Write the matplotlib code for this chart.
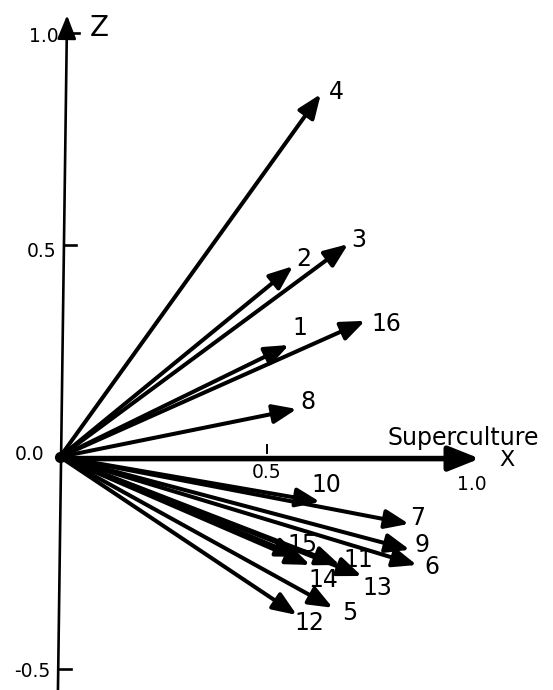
import matplotlib
matplotlib.use("Agg")
import matplotlib.pyplot as plt

# loadings of the 16 items on the Superculture axis (x) and the Z axis
labels = ["1", "2", "3", "4", "5", "6", "7", "8",
          "9", "10", "11", "12", "13", "14", "15", "16"]
x_load = [0.553, 0.563, 0.696, 0.630, 0.659, 0.862, 0.843, 0.572,
          0.845, 0.628, 0.676, 0.572, 0.729, 0.604, 0.580, 0.737]
z_load = [0.264, 0.450, 0.502, 0.856, -0.356, -0.255, -0.158, 0.113,
          -0.219, -0.106, -0.255, -0.373, -0.281, -0.255, -0.236, 0.321]

z_ticks = [1.0, 0.5, 0.0, -0.5]
z_tick_text = ["1.0", "0.5", "0.0", "-0.5"]
x_ticks = [0.5, 1.0]
x_tick_text = ["0.5", "1.0"]

# where each number sits relative to its arrow tip (pixels, y up)
label_off = {"1": (11, 17), "2": (11, 7), "3": (11, 4), "4": (16, 2),
             "5": (17, -5), "6": (15, -2), "7": (9, 6), "8": (11, 7),
             "9": (12, 5), "10": (6, 17), "11": (18, 5), "12": (13, -8),
             "13": (16, -12), "14": (13, -15), "15": (2, 12), "16": (21, -3)}

fig = plt.figure(figsize=(5.53, 6.90), dpi=100)
ax = fig.add_axes([0, 0, 1, 1])
ax.set_xlim(-0.145, 1.191)
ax.set_ylim(-0.550, 1.078)
ax.axis("off")

FS = 17
TFS = 13.5
head = "-|>,head_length=0.8,head_width=0.32"

# Z axis (slightly leaning, as drawn by hand)
zb, zt = (-0.005, -0.55), (0.017, 1.042)
ax.annotate("", xy=zt, xytext=zb,
            arrowprops=dict(arrowstyle=head, mutation_scale=18, lw=1.9,
                            color="black", shrinkA=0, shrinkB=0))
ax.text(0.072, 1.012, "Z", fontsize=20, ha="left", va="center")


def zaxis_x(z):
    return zb[0] + (zt[0] - zb[0]) * (z - zb[1]) / (zt[1] - zb[1])


for z, t in zip(z_ticks, z_tick_text):
    xa = zaxis_x(z)
    if z != 0.0:
        ax.plot([xa, xa + 0.03], [z, z], color="black", lw=1.9)
        ax.annotate(t, xy=(xa, z), xytext=(-8, -7 if z == 0.5 else -3),
                    textcoords="offset pixels", ha="right", va="center",
                    fontsize=TFS)
    else:
        ax.annotate(t, xy=(xa, z), xytext=(-17, 2),
                    textcoords="offset pixels", ha="right", va="center",
                    fontsize=TFS)

# Superculture (x) axis
ax.annotate("", xy=(1.014, -0.004), xytext=(0, -0.004),
            arrowprops=dict(arrowstyle="-|>,head_length=0.85,head_width=0.34",
                            mutation_scale=22, lw=4.0, color="black",
                            shrinkA=0, shrinkB=0))
ax.text(0.973, 0.045, "Superculture", fontsize=17, ha="center", va="center")
ax.text(1.08, -0.007, "X", fontsize=16, ha="center", va="center")
ax.plot([0.5, 0.5], [0.010, 0.027], color="black", lw=1.4)
ax.annotate(x_tick_text[0], xy=(x_ticks[0], 0), xytext=(0, -16),
            textcoords="offset pixels", ha="center", va="center", fontsize=TFS)
ax.annotate(x_tick_text[1], xy=(x_ticks[1], 0), xytext=(-2, -28),
            textcoords="offset pixels", ha="center", va="center", fontsize=TFS)

# item vectors from the origin
for lbl, xv, zv in zip(labels, x_load, z_load):
    ax.annotate("", xy=(xv, zv), xytext=(0, 0),
                arrowprops=dict(arrowstyle=head, mutation_scale=18, lw=2.9,
                                color="black", shrinkA=0, shrinkB=0))
    ax.annotate(lbl, xy=(xv, zv), xytext=label_off[lbl],
                textcoords="offset pixels", ha="center", va="center",
                fontsize=FS)

ax.plot([0], [0], "o", color="black", ms=7)

fig.savefig("out.png", dpi=100)
